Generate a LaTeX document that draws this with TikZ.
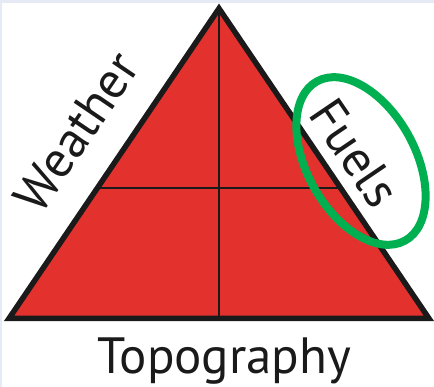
\documentclass[tikz,border=0pt]{standalone}
\usepackage{fontspec}
\setmainfont{PT Sans}
\usetikzlibrary{calc,shapes.geometric}
\definecolor{firered}{HTML}{E3322E}
\definecolor{ringgreen}{HTML}{00AF4F}
\definecolor{inkblack}{HTML}{1A1A1A}
\definecolor{framec}{HTML}{E6EAF4}
\tikzset{
  outline/.style={draw=inkblack, line width=5.5pt, line join=miter},
  divider/.style={draw=inkblack, line width=1.8pt},
  label/.style={font=\fontsize{51}{51}\selectfont, text=inkblack, inner sep=0pt},
  ring/.style={draw=ringgreen, line width=8pt, ellipse, minimum width=182pt, minimum height=108pt}
}
\begin{document}
\begin{tikzpicture}[x=1pt,y=1pt]
\useasboundingbox (0,0) rectangle (434,387);
\fill[white] (0,0) rectangle (434,387);
\fill[framec] (0,384) rectangle (434,387);
\fill[framec] (0,0) rectangle (1.5,387);
\coordinate (A) at (219,378.5);
\coordinate (L) at (9,68.5);
\coordinate (R) at (429,68.5);
\coordinate (B) at (219,68.5);
\coordinate (ML) at ($(L)!0.42!(A)$);
\coordinate (MR) at ($(R)!0.42!(A)$);
\fill[firered] (A) -- (L) -- (R) -- cycle;
\draw[divider] (ML) -- (MR);
\draw[divider] (A) -- (B);
\draw[outline] (A) -- (L) -- (R) -- cycle;
\node[label, rotate=55.8] (weather) at (76,255) {Weather};
\node[label, rotate=-55.8] (fuels) at (355,234) {Fuels};
\node[label, anchor=base] (topo) at (224.5,13) {Topography};
\node[ring, rotate=-61] (circ) at (361,226) {};
\end{tikzpicture}
\end{document}
